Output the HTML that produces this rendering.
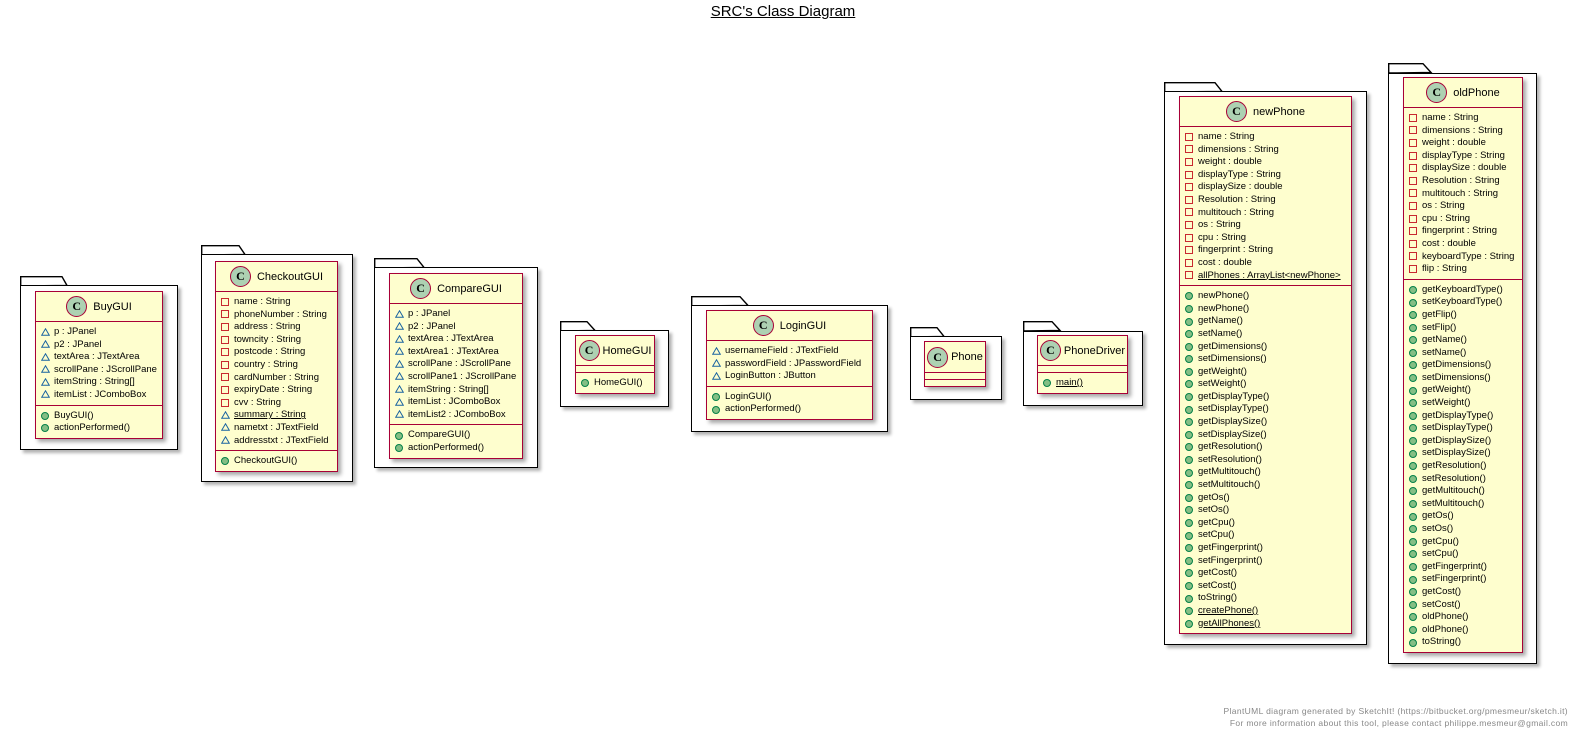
<!DOCTYPE html>
<html><head><meta charset="utf-8"><style>
*{margin:0;padding:0}
body{width:1578px;height:743px;background:#fff;position:relative;overflow:hidden;font-family:"Liberation Sans",Arial,sans-serif;color:#000}
.pk{position:absolute;border:1.4px solid #000;background:#fff;box-shadow:3px 3px 3px rgba(0,0,0,.3);box-sizing:border-box}
.tab{position:absolute;overflow:visible}
.cls{position:absolute;background:#FEFECE;border:1.5px solid #A80036;box-shadow:3px 3px 4px rgba(0,0,0,.35);box-sizing:border-box}
.hd{height:29px;display:flex;align-items:center;justify-content:center;gap:6px;font-size:11px;border-bottom:1.5px solid #A80036}
.ci{width:19px;height:19px;border-radius:50%;background:#ADD1B2;border:1px solid #A80036;display:flex;align-items:center;justify-content:center;font:bold 12px "Liberation Serif",serif}
.sec{padding:4px 0 3px}
.sec.a{border-bottom:1.5px solid #A80036}
.sec.e{padding:0;height:6px}
.r{height:12.6px;line-height:12.6px;font-size:9.5px;padding-left:18px;position:relative;white-space:nowrap}
.r i{position:absolute;left:5px;top:1.8px;display:block}
.sq{width:6px;height:6px;border:1px solid #C82930}
.pu{width:6px;height:6px;border-radius:50%;background:#84BE84;border:1px solid #038048;top:2.2px!important}
.u{text-decoration:underline}
svg.tr{position:absolute;left:5px;top:1.5px}
</style></head><body>

<div style="position:absolute;left:0;width:1566px;top:3px;text-align:center;font-size:15px;"><span style="text-decoration:underline">SRC's Class Diagram</span></div>

<svg class="tab" style="left:20px;top:276px" width="60" height="12"><polygon points="0.7,10 0.7,0.7 42,0.7 47,9.5" fill="#fff" stroke="#000" stroke-width="1.4"/></svg>
<div class="pk" style="left:20px;top:285px;width:158px;height:165px"></div>
<svg class="tab" style="left:201px;top:245px" width="60" height="12"><polygon points="0.7,10 0.7,0.7 38,0.7 44,9.5" fill="#fff" stroke="#000" stroke-width="1.4"/></svg>
<div class="pk" style="left:201px;top:254px;width:152px;height:228px"></div>
<svg class="tab" style="left:374px;top:258px" width="60" height="12"><polygon points="0.7,10 0.7,0.7 43,0.7 50,9.5" fill="#fff" stroke="#000" stroke-width="1.4"/></svg>
<div class="pk" style="left:374px;top:267px;width:164px;height:201px"></div>
<svg class="tab" style="left:560px;top:321px" width="60" height="12"><polygon points="0.7,10 0.7,0.7 27,0.7 35,9.5" fill="#fff" stroke="#000" stroke-width="1.4"/></svg>
<div class="pk" style="left:560px;top:330px;width:109px;height:77px"></div>
<svg class="tab" style="left:691px;top:296px" width="60" height="12"><polygon points="0.7,10 0.7,0.7 49,0.7 57,9.5" fill="#fff" stroke="#000" stroke-width="1.4"/></svg>
<div class="pk" style="left:691px;top:305px;width:197px;height:127px"></div>
<svg class="tab" style="left:910px;top:327px" width="60" height="12"><polygon points="0.7,10 0.7,0.7 27,0.7 34,9.5" fill="#fff" stroke="#000" stroke-width="1.4"/></svg>
<div class="pk" style="left:910px;top:336px;width:92px;height:64px"></div>
<svg class="tab" style="left:1023px;top:321px" width="60" height="12"><polygon points="0.7,10 0.7,0.7 29,0.7 37,9.5" fill="#fff" stroke="#000" stroke-width="1.4"/></svg>
<div class="pk" style="left:1023px;top:331px;width:120px;height:75px"></div>
<svg class="tab" style="left:1164px;top:82px" width="65" height="12"><polygon points="0.7,10 0.7,0.7 51,0.7 58,9.5" fill="#fff" stroke="#000" stroke-width="1.4"/></svg>
<div class="pk" style="left:1164px;top:91px;width:203px;height:554px"></div>
<svg class="tab" style="left:1388px;top:63px" width="60" height="12"><polygon points="0.7,10 0.7,0.7 35,0.7 43,9.5" fill="#fff" stroke="#000" stroke-width="1.4"/></svg>
<div class="pk" style="left:1388px;top:73px;width:149px;height:591px"></div>

<svg width="0" height="0" style="position:absolute"><defs><symbol id="tri" viewBox="0 0 9 8"><polygon points="4.5,0.8 8.3,7.3 0.7,7.3" fill="none" stroke="#1963A0" stroke-width="1"/></symbol></defs></svg>

<div class="cls" style="left:35px;top:291px;width:128px">
<div class="hd"><div class="ci">C</div><span>BuyGUI</span></div>
<div class="sec a">
<div class="r"><svg class="tr" width="9" height="8"><use href="#tri"/></svg>p : JPanel</div>
<div class="r"><svg class="tr" width="9" height="8"><use href="#tri"/></svg>p2 : JPanel</div>
<div class="r"><svg class="tr" width="9" height="8"><use href="#tri"/></svg>textArea : JTextArea</div>
<div class="r"><svg class="tr" width="9" height="8"><use href="#tri"/></svg>scrollPane : JScrollPane</div>
<div class="r"><svg class="tr" width="9" height="8"><use href="#tri"/></svg>itemString : String[]</div>
<div class="r"><svg class="tr" width="9" height="8"><use href="#tri"/></svg>itemList : JComboBox</div>
</div>
<div class="sec">
<div class="r"><i class="pu"></i>BuyGUI()</div>
<div class="r"><i class="pu"></i>actionPerformed()</div>
</div></div>

<div class="cls" style="left:215px;top:261px;width:123px">
<div class="hd"><div class="ci">C</div><span>CheckoutGUI</span></div>
<div class="sec a">
<div class="r"><i class="sq"></i>name : String</div>
<div class="r"><i class="sq"></i>phoneNumber : String</div>
<div class="r"><i class="sq"></i>address : String</div>
<div class="r"><i class="sq"></i>towncity : String</div>
<div class="r"><i class="sq"></i>postcode : String</div>
<div class="r"><i class="sq"></i>country : String</div>
<div class="r"><i class="sq"></i>cardNumber : String</div>
<div class="r"><i class="sq"></i>expiryDate : String</div>
<div class="r"><i class="sq"></i>cvv : String</div>
<div class="r"><svg class="tr" width="9" height="8"><use href="#tri"/></svg><span class="u">summary : String</span></div>
<div class="r"><svg class="tr" width="9" height="8"><use href="#tri"/></svg>nametxt : JTextField</div>
<div class="r"><svg class="tr" width="9" height="8"><use href="#tri"/></svg>addresstxt : JTextField</div>
</div>
<div class="sec">
<div class="r"><i class="pu"></i>CheckoutGUI()</div>
</div></div>

<div class="cls" style="left:389px;top:273px;width:134px">
<div class="hd"><div class="ci">C</div><span>CompareGUI</span></div>
<div class="sec a">
<div class="r"><svg class="tr" width="9" height="8"><use href="#tri"/></svg>p : JPanel</div>
<div class="r"><svg class="tr" width="9" height="8"><use href="#tri"/></svg>p2 : JPanel</div>
<div class="r"><svg class="tr" width="9" height="8"><use href="#tri"/></svg>textArea : JTextArea</div>
<div class="r"><svg class="tr" width="9" height="8"><use href="#tri"/></svg>textArea1 : JTextArea</div>
<div class="r"><svg class="tr" width="9" height="8"><use href="#tri"/></svg>scrollPane : JScrollPane</div>
<div class="r"><svg class="tr" width="9" height="8"><use href="#tri"/></svg>scrollPane1 : JScrollPane</div>
<div class="r"><svg class="tr" width="9" height="8"><use href="#tri"/></svg>itemString : String[]</div>
<div class="r"><svg class="tr" width="9" height="8"><use href="#tri"/></svg>itemList : JComboBox</div>
<div class="r"><svg class="tr" width="9" height="8"><use href="#tri"/></svg>itemList2 : JComboBox</div>
</div>
<div class="sec">
<div class="r"><i class="pu"></i>CompareGUI()</div>
<div class="r"><i class="pu"></i>actionPerformed()</div>
</div></div>

<div class="cls" style="left:575px;top:335px;width:80px">
<div class="hd" style="gap:3px"><div class="ci">C</div><span>HomeGUI</span></div>
<div class="sec a e"></div>
<div class="sec">
<div class="r"><i class="pu"></i>HomeGUI()</div>
</div></div>

<div class="cls" style="left:706px;top:310px;width:167px">
<div class="hd"><div class="ci">C</div><span>LoginGUI</span></div>
<div class="sec a">
<div class="r"><svg class="tr" width="9" height="8"><use href="#tri"/></svg>usernameField : JTextField</div>
<div class="r"><svg class="tr" width="9" height="8"><use href="#tri"/></svg>passwordField : JPasswordField</div>
<div class="r"><svg class="tr" width="9" height="8"><use href="#tri"/></svg>LoginButton : JButton</div>
</div>
<div class="sec">
<div class="r"><i class="pu"></i>LoginGUI()</div>
<div class="r"><i class="pu"></i>actionPerformed()</div>
</div></div>

<div class="cls" style="left:924px;top:341px;width:62px">
<div class="hd" style="gap:3px;height:30px"><div class="ci">C</div><span>Phone</span></div>
<div class="sec a e"></div>
<div class="sec e"></div>
</div>

<div class="cls" style="left:1037px;top:335px;width:91px">
<div class="hd" style="gap:3px"><div class="ci">C</div><span>PhoneDriver</span></div>
<div class="sec a e"></div>
<div class="sec">
<div class="r"><i class="pu"></i><span class="u">main()</span></div>
</div></div>

<div class="cls" style="left:1179px;top:96px;width:173px">
<div class="hd"><div class="ci">C</div><span>newPhone</span></div>
<div class="sec a">
<div class="r"><i class="sq"></i>name : String</div>
<div class="r"><i class="sq"></i>dimensions : String</div>
<div class="r"><i class="sq"></i>weight : double</div>
<div class="r"><i class="sq"></i>displayType : String</div>
<div class="r"><i class="sq"></i>displaySize : double</div>
<div class="r"><i class="sq"></i>Resolution : String</div>
<div class="r"><i class="sq"></i>multitouch : String</div>
<div class="r"><i class="sq"></i>os : String</div>
<div class="r"><i class="sq"></i>cpu : String</div>
<div class="r"><i class="sq"></i>fingerprint : String</div>
<div class="r"><i class="sq"></i>cost : double</div>
<div class="r"><i class="sq"></i><span class="u">allPhones : ArrayList&lt;newPhone&gt;</span></div>
</div>
<div class="sec">
<div class="r"><i class="pu"></i>newPhone()</div>
<div class="r"><i class="pu"></i>newPhone()</div>
<div class="r"><i class="pu"></i>getName()</div>
<div class="r"><i class="pu"></i>setName()</div>
<div class="r"><i class="pu"></i>getDimensions()</div>
<div class="r"><i class="pu"></i>setDimensions()</div>
<div class="r"><i class="pu"></i>getWeight()</div>
<div class="r"><i class="pu"></i>setWeight()</div>
<div class="r"><i class="pu"></i>getDisplayType()</div>
<div class="r"><i class="pu"></i>setDisplayType()</div>
<div class="r"><i class="pu"></i>getDisplaySize()</div>
<div class="r"><i class="pu"></i>setDisplaySize()</div>
<div class="r"><i class="pu"></i>getResolution()</div>
<div class="r"><i class="pu"></i>setResolution()</div>
<div class="r"><i class="pu"></i>getMultitouch()</div>
<div class="r"><i class="pu"></i>setMultitouch()</div>
<div class="r"><i class="pu"></i>getOs()</div>
<div class="r"><i class="pu"></i>setOs()</div>
<div class="r"><i class="pu"></i>getCpu()</div>
<div class="r"><i class="pu"></i>setCpu()</div>
<div class="r"><i class="pu"></i>getFingerprint()</div>
<div class="r"><i class="pu"></i>setFingerprint()</div>
<div class="r"><i class="pu"></i>getCost()</div>
<div class="r"><i class="pu"></i>setCost()</div>
<div class="r"><i class="pu"></i>toString()</div>
<div class="r"><i class="pu"></i><span class="u">createPhone()</span></div>
<div class="r"><i class="pu"></i><span class="u">getAllPhones()</span></div>
</div></div>

<div class="cls" style="left:1403px;top:77px;width:120px">
<div class="hd"><div class="ci">C</div><span>oldPhone</span></div>
<div class="sec a">
<div class="r"><i class="sq"></i>name : String</div>
<div class="r"><i class="sq"></i>dimensions : String</div>
<div class="r"><i class="sq"></i>weight : double</div>
<div class="r"><i class="sq"></i>displayType : String</div>
<div class="r"><i class="sq"></i>displaySize : double</div>
<div class="r"><i class="sq"></i>Resolution : String</div>
<div class="r"><i class="sq"></i>multitouch : String</div>
<div class="r"><i class="sq"></i>os : String</div>
<div class="r"><i class="sq"></i>cpu : String</div>
<div class="r"><i class="sq"></i>fingerprint : String</div>
<div class="r"><i class="sq"></i>cost : double</div>
<div class="r"><i class="sq"></i>keyboardType : String</div>
<div class="r"><i class="sq"></i>flip : String</div>
</div>
<div class="sec">
<div class="r"><i class="pu"></i>getKeyboardType()</div>
<div class="r"><i class="pu"></i>setKeyboardType()</div>
<div class="r"><i class="pu"></i>getFlip()</div>
<div class="r"><i class="pu"></i>setFlip()</div>
<div class="r"><i class="pu"></i>getName()</div>
<div class="r"><i class="pu"></i>setName()</div>
<div class="r"><i class="pu"></i>getDimensions()</div>
<div class="r"><i class="pu"></i>setDimensions()</div>
<div class="r"><i class="pu"></i>getWeight()</div>
<div class="r"><i class="pu"></i>setWeight()</div>
<div class="r"><i class="pu"></i>getDisplayType()</div>
<div class="r"><i class="pu"></i>setDisplayType()</div>
<div class="r"><i class="pu"></i>getDisplaySize()</div>
<div class="r"><i class="pu"></i>setDisplaySize()</div>
<div class="r"><i class="pu"></i>getResolution()</div>
<div class="r"><i class="pu"></i>setResolution()</div>
<div class="r"><i class="pu"></i>getMultitouch()</div>
<div class="r"><i class="pu"></i>setMultitouch()</div>
<div class="r"><i class="pu"></i>getOs()</div>
<div class="r"><i class="pu"></i>setOs()</div>
<div class="r"><i class="pu"></i>getCpu()</div>
<div class="r"><i class="pu"></i>setCpu()</div>
<div class="r"><i class="pu"></i>getFingerprint()</div>
<div class="r"><i class="pu"></i>setFingerprint()</div>
<div class="r"><i class="pu"></i>getCost()</div>
<div class="r"><i class="pu"></i>setCost()</div>
<div class="r"><i class="pu"></i>oldPhone()</div>
<div class="r"><i class="pu"></i>oldPhone()</div>
<div class="r"><i class="pu"></i>toString()</div>
</div></div>

<div style="position:absolute;right:10px;top:705px;text-align:right;font-size:8.5px;line-height:12px;color:#888;letter-spacing:0.35px">PlantUML diagram generated by SketchIt! (https://bitbucket.org/pmesmeur/sketch.it)<br>For more information about this tool, please contact philippe.mesmeur@gmail.com</div>
</body></html>
